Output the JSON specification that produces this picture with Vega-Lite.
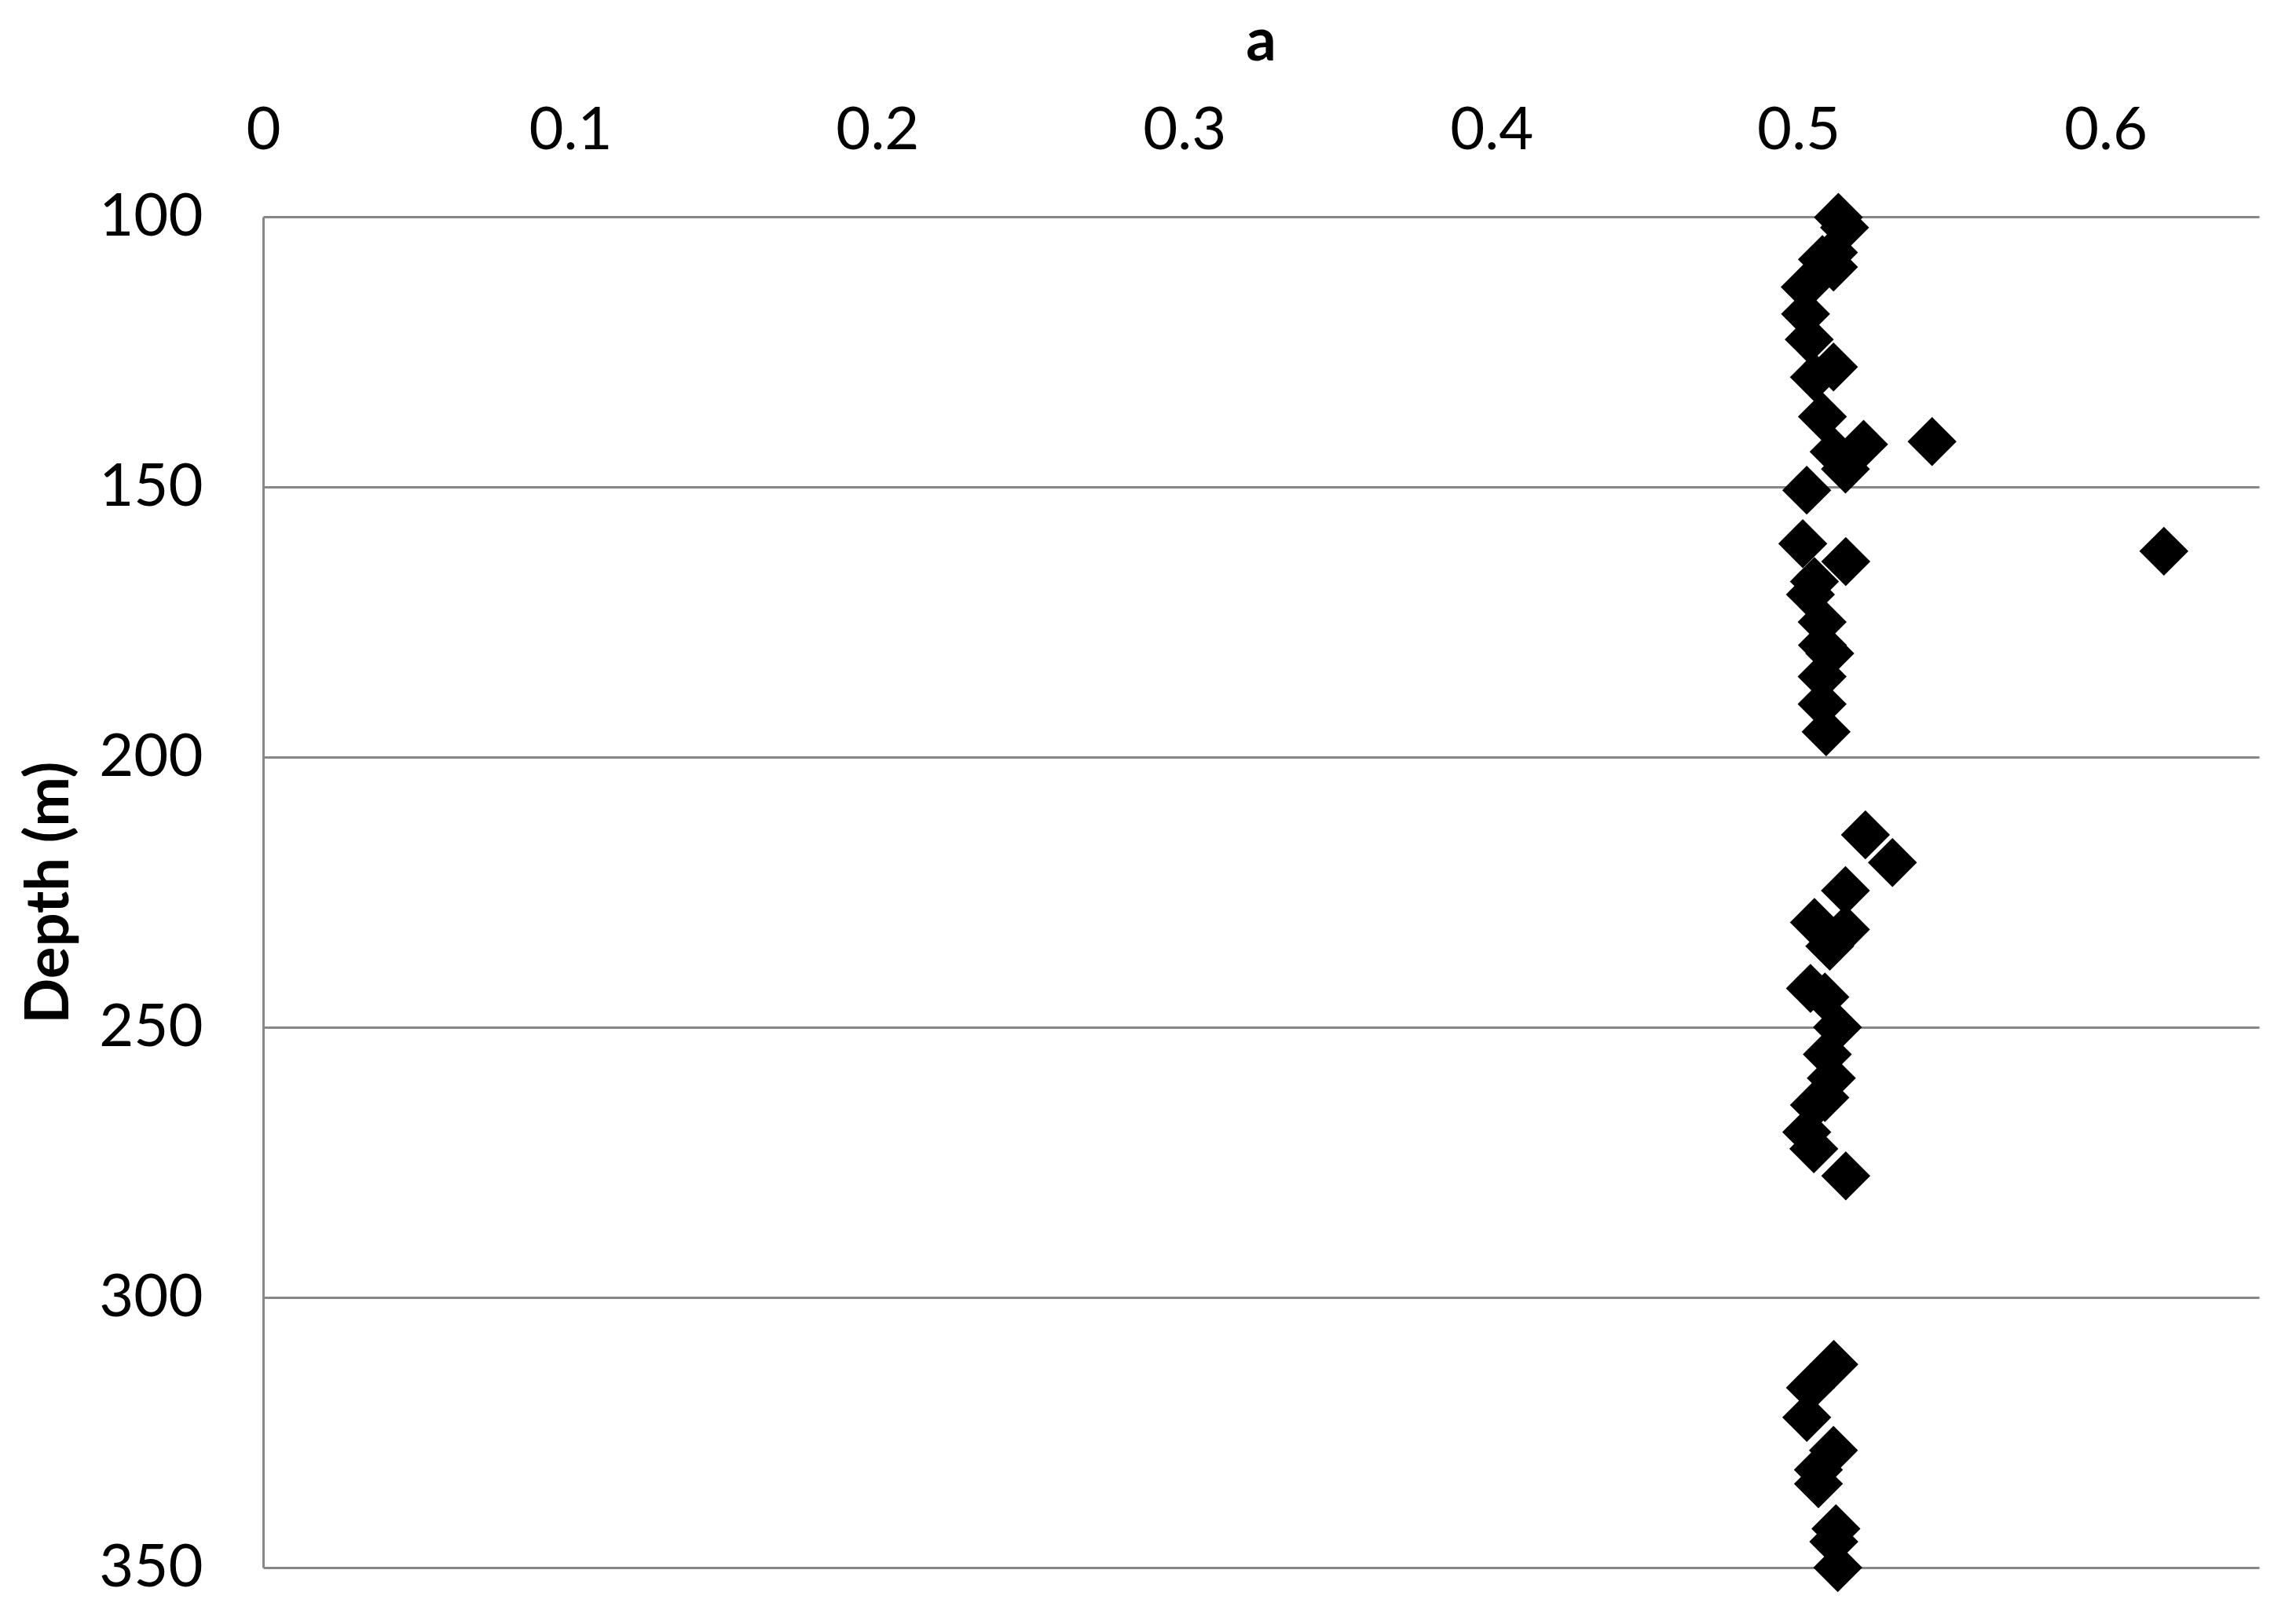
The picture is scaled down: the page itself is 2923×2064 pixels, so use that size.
{
  "$schema": "https://vega.github.io/schema/vega-lite/v6.json",
  "autosize": {"type": "none"},
  "width": 2541,
  "height": 1720,
  "padding": {"left": 335, "top": 276, "right": 47, "bottom": 68},
  "background": "white",
  "config": {"view": {"stroke": null}, "font": "Lato"},
  "data": {"values": [
    {"a": 0.513, "depth": 100.1},
    {"a": 0.515, "depth": 102},
    {"a": 0.5114, "depth": 106.6},
    {"a": 0.5078, "depth": 107.9},
    {"a": 0.5114, "depth": 109.3},
    {"a": 0.5022, "depth": 113},
    {"a": 0.5023, "depth": 118},
    {"a": 0.5035, "depth": 122.7},
    {"a": 0.5114, "depth": 127.8},
    {"a": 0.5052, "depth": 129.7},
    {"a": 0.5078, "depth": 137},
    {"a": 0.5435, "depth": 141.6},
    {"a": 0.5212, "depth": 142.1},
    {"a": 0.5116, "depth": 143.5},
    {"a": 0.5153, "depth": 146.7},
    {"a": 0.5027, "depth": 150.6},
    {"a": 0.5014, "depth": 160.5},
    {"a": 0.619, "depth": 161.9},
    {"a": 0.5154, "depth": 163.8},
    {"a": 0.5052, "depth": 167.5},
    {"a": 0.5039, "depth": 169.9},
    {"a": 0.5077, "depth": 175},
    {"a": 0.5078, "depth": 179.3},
    {"a": 0.5102, "depth": 180.8},
    {"a": 0.5077, "depth": 185.1},
    {"a": 0.5077, "depth": 190.2},
    {"a": 0.509, "depth": 195.3},
    {"a": 0.5218, "depth": 214.4},
    {"a": 0.5306, "depth": 219.5},
    {"a": 0.5153, "depth": 224.7},
    {"a": 0.5052, "depth": 230.6},
    {"a": 0.5153, "depth": 231.9},
    {"a": 0.5102, "depth": 235},
    {"a": 0.5039, "depth": 242.8},
    {"a": 0.5086, "depth": 244.4},
    {"a": 0.5127, "depth": 250},
    {"a": 0.5094, "depth": 255},
    {"a": 0.5107, "depth": 259.4},
    {"a": 0.5086, "depth": 263},
    {"a": 0.5052, "depth": 264.4},
    {"a": 0.5027, "depth": 269.4},
    {"a": 0.505, "depth": 272.5},
    {"a": 0.5154, "depth": 277.5},
    {"a": 0.5115, "depth": 312.4},
    {"a": 0.5039, "depth": 316.7},
    {"a": 0.5027, "depth": 322.2},
    {"a": 0.5114, "depth": 328.3},
    {"a": 0.5065, "depth": 331.9},
    {"a": 0.5065, "depth": 334.5},
    {"a": 0.5122, "depth": 342.8},
    {"a": 0.5115, "depth": 345.2},
    {"a": 0.5128, "depth": 350}
  ]},
  "mark": {"type": "point", "shape": "diamond", "filled": true, "color": "black", "opacity": 1, "size": 3900},
  "encoding": {
    "x": {
      "field": "a", "type": "quantitative",
      "scale": {"domain": [0, 0.65], "nice": false, "zero": false},
      "axis": {
        "orient": "top", "title": "a", "values": [0, 0.1, 0.2, 0.3, 0.4, 0.5, 0.6],
        "format": "~g", "grid": false, "domain": false, "ticks": false,
        "labelFontSize": 76, "labelFont": "Lato", "labelColor": "black", "labelPadding": 110,
        "labelBaseline": "middle", "labelFlush": false,
        "titleFontSize": 76, "titleFont": "Lato", "titleFontWeight": "bold", "titleColor": "black",
        "titleX": 1270, "titleY": -223, "titleBaseline": "middle", "titleAlign": "center"
      }
    },
    "y": {
      "field": "depth", "type": "quantitative",
      "scale": {"domain": [100, 350], "reverse": true, "nice": false, "zero": false},
      "axis": {
        "title": "Depth (m)", "values": [100, 150, 200, 250, 300, 350],
        "grid": true, "gridColor": "#878787", "gridWidth": 3, "gridOpacity": 1,
        "domain": true, "domainColor": "#878787", "domainWidth": 3,
        "ticks": false, "labelFontSize": 76, "labelFont": "Lato", "labelColor": "black",
        "labelPadding": 77, "labelFlush": false,
        "titleFontSize": 76, "titleFont": "Lato", "titleFontWeight": "bold", "titleColor": "black",
        "titleAngle": -90, "titleX": -272, "titleY": 860, "titleBaseline": "middle", "titleAlign": "center"
      }
    }
  }
}
